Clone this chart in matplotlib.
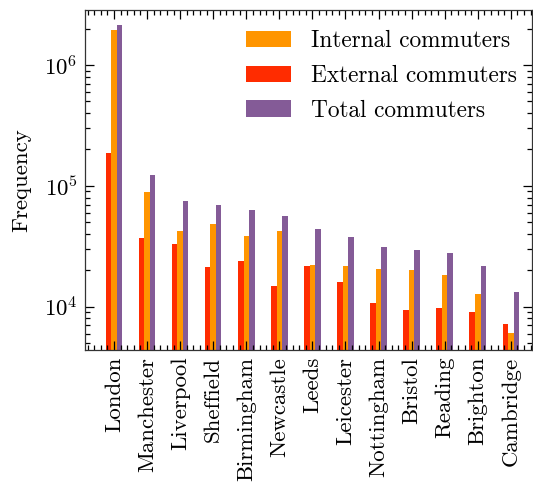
import matplotlib
matplotlib.use("Agg")
import numpy as np
import matplotlib.pyplot as plt
from matplotlib.ticker import AutoMinorLocator, LogLocator, NullFormatter

# Commuter counts per city (log scale)
cities = ["London", "Manchester", "Liverpool", "Sheffield", "Birmingham",
          "Newcastle", "Leeds", "Leicester", "Nottingham", "Bristol",
          "Reading", "Brighton", "Cambridge"]
external = [186000, 37000, 33200, 21200, 24100, 14800, 21600, 16100,
            10700, 9470, 9700, 9120, 7210]
internal = [1950000, 88300, 41900, 48500, 38400, 41900, 22000, 21600,
            20700, 20300, 18200, 12700, 6040]
total = [2140000, 123000, 74900, 69300, 62800, 56400, 44100, 37700,
         31200, 29200, 28000, 21600, 13300]

# science-ish style
plt.rcParams.update({
    "font.family": "serif",
    "font.serif": ["cmr10"],
    "mathtext.fontset": "cm",
    "axes.formatter.use_mathtext": True,
    "font.size": 11,
    "axes.linewidth": 0.6,
    "xtick.direction": "in",
    "ytick.direction": "in",
    "xtick.top": True,
    "ytick.right": True,
    "xtick.major.width": 0.6,
    "xtick.minor.width": 0.6,
    "ytick.major.width": 0.6,
    "ytick.minor.width": 0.6,
})

dpi = 150
fig = plt.figure(figsize=(533 / dpi, 484 / dpi), dpi=dpi)
ax = fig.add_axes([85 / 533, 1 - 349.5 / 484, (532 - 85) / 533, (349.5 - 10) / 484])

x = np.arange(len(cities))
w = 0.5 / 3
b_int = ax.bar(x, internal, w, color="#FF9500", label="Internal commuters")
b_ext = ax.bar(x - w, external, w, color="#FF2C00", label="External commuters")
b_tot = ax.bar(x + w, total, w, color="#845B97", label="Total commuters")

ax.set_yscale("log")
ax.set_ylim(4425, 2.85e6)
ax.set_xlim(-0.877, 12.64)
ax.yaxis.set_major_locator(LogLocator(base=10))
ax.yaxis.set_minor_locator(LogLocator(base=10, subs=np.arange(2, 10)))
ax.yaxis.set_minor_formatter(NullFormatter())

ax.set_xticks(x)
ax.set_xticklabels(cities, rotation=90)
ax.xaxis.set_minor_locator(AutoMinorLocator(5))
ax.tick_params(axis="both", which="major", length=4.5)
ax.tick_params(axis="both", which="minor", length=2.2)

ax.set_ylabel("Frequency", labelpad=6)

ax.legend(handles=[b_int, b_ext, b_tot], frameon=False, loc="upper right",
          bbox_to_anchor=(1.0, 0.986),
          fontsize=11.2, handlelength=1.93, handleheight=0.72,
          handletextpad=0.86, labelspacing=0.55, borderaxespad=0.25)

for s in ax.spines.values():
    s.set_color("#333333")

fig.savefig("out.png", dpi=dpi)
